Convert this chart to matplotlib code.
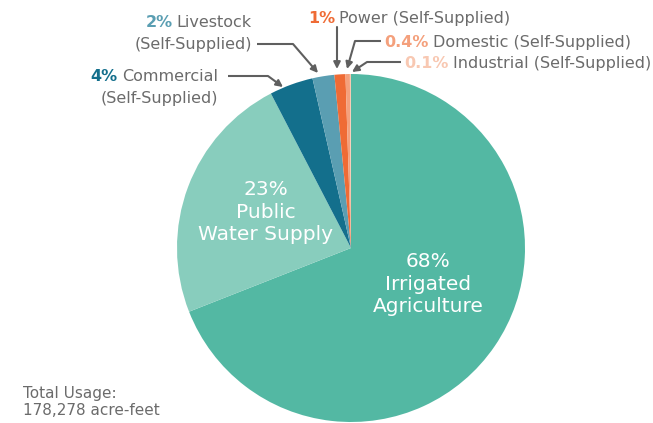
import matplotlib
matplotlib.use('Agg')
import matplotlib.pyplot as plt

# data
sectors = ['Irrigated Agriculture', 'Public Water Supply', 'Commercial (Self-Supplied)',
           'Livestock (Self-Supplied)', 'Power (Self-Supplied)', 'Domestic (Self-Supplied)',
           'Industrial (Self-Supplied)']
shares = [68, 23, 4, 2, 1, 0.4, 0.1]
pct_labels = ['68%', '23%', '4%', '2%', '1%', '0.4%', '0.1%']
colors = ['#53b8a3', '#88cdbd', '#136f8c', '#5a9eb2', '#ef6b35', '#f4a07c', '#f8c8b2']
total_text = 'Total Usage:\n178,278 acre-feet'

W, H = 653, 423
plt.rcParams['font.family'] = ['DejaVu Sans']
fig = plt.figure(figsize=(W / 100, H / 100), dpi=100)
ax = fig.add_axes([0, 0, 1, 1])

def P(x, y):
    # pixel position (top-left origin) -> data
    return (x, H - y)

ax.pie(shares, colors=colors, startangle=90, counterclock=False,
       center=P(351, 248), radius=174, frame=True,
       wedgeprops=dict(linewidth=0))
ax.set_xlim(0, W)
ax.set_ylim(0, H)
ax.set_aspect('equal')
ax.axis('off')

gray = '#6b6b6b'
line_c = '#5f5f5f'
fs = 11.5

# inner labels
ax.text(*P(266, 212), pct_labels[1] + '\nPublic\nWater Supply', color='white',
        fontsize=14.5, ha='center', va='center', linespacing=1.25)
ax.text(*P(428, 284), pct_labels[0] + '\nIrrigated\nAgriculture', color='white',
        fontsize=14.5, ha='center', va='center', linespacing=1.25)

def callout_right(idx, name, x, y):
    t = ax.text(*P(x, y), name, color=gray, fontsize=fs, ha='right', va='center')
    ax.annotate(pct_labels[idx], xy=(0, 0), xycoords=t, xytext=(-3, 0),
                textcoords='offset points', ha='right', va='bottom',
                color=colors[idx], fontsize=fs, fontweight='bold')
    ax.text(*P(x, y + 22), '(Self-Supplied)', color=gray, fontsize=fs,
            ha='right', va='center')

def callout_left(idx, name, x, y):
    t = ax.text(*P(x, y), pct_labels[idx], color=colors[idx], fontsize=fs,
                fontweight='bold', ha='left', va='center')
    ax.annotate(name, xy=(1, 0), xycoords=t, xytext=(3, 0),
                textcoords='offset points', ha='left', va='bottom',
                color=gray, fontsize=fs)

callout_right(2, 'Commercial', 218, 76)
callout_right(3, 'Livestock', 252, 22)
callout_left(4, 'Power (Self-Supplied)', 308, 18)
callout_left(5, 'Domestic (Self-Supplied)', 384, 42)
callout_left(6, 'Industrial (Self-Supplied)', 404, 63)

# leader lines
leaders = [
    [(228, 76), (268, 76), (283, 87)],
    [(257, 44), (293, 44), (318, 73)],
    [(337, 27), (337, 27), (337, 69)],
    [(381, 41), (355, 41), (347, 69)],
    [(401, 62), (367, 62), (352, 72)],
]
for pts in leaders:
    (x0, y0), (x1, y1), (x2, y2) = pts
    ax.plot([x0, x1], [H - y0, H - y1], color=line_c, lw=1.5, solid_capstyle='butt')
    ax.annotate('', xy=P(x2, y2), xytext=P(x1, y1),
                arrowprops=dict(arrowstyle='-|>', color=line_c, lw=1.5,
                                mutation_scale=10, shrinkA=0, shrinkB=0))

ax.text(*P(23, 402), total_text, color=gray, fontsize=11, ha='left', va='center',
        linespacing=1.2)

fig.savefig('out.png', dpi=100)
